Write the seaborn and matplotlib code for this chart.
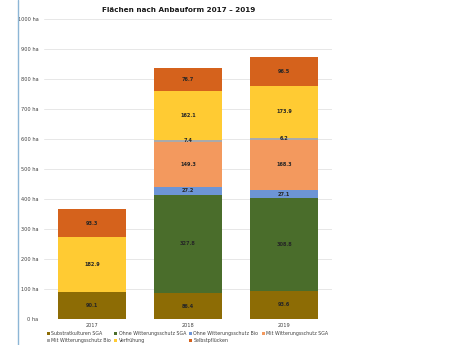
import matplotlib
matplotlib.use("Agg")
import matplotlib.pyplot as plt
from matplotlib.lines import Line2D
from matplotlib.patches import Patch
from matplotlib.ticker import FuncFormatter
import numpy as np
import pandas as pd
import seaborn as sns

years = ["2017", "2018", "2019"]
categories = [
    "Substratkulturen SGA",
    "Ohne Witterungsschutz SGA",
    "Ohne Witterungsschutz Bio",
    "Mit Witterungsschutz SGA",
    "Mit Witterungsschutz Bio",
    "Verfrühung",
    "Selbstpflücken",
]
substrat_sga = [90.1, 86.4, 93.6]
ohne_ws_sga = [0.0, 327.8, 308.8]
ohne_ws_bio = [0.0, 27.2, 27.1]
mit_ws_sga = [0.0, 149.3, 168.3]
mit_ws_bio = [0.0, 7.4, 6.2]
verfruehung = [182.9, 162.1, 173.9]
selbstpfluecken = [93.3, 76.7, 96.5]
y_ticks = list(range(0, 1001, 100))

colors = ["#8d6c05", "#4a6d2b", "#6d95d6", "#f3995e", "#aaaaaa", "#ffcb33", "#d5621c"]
series = [substrat_sga, ohne_ws_sga, ohne_ws_bio, mit_ws_sga, mit_ws_bio,
          verfruehung, selbstpfluecken]

sns.set_style("white")
plt.rcParams["font.family"] = ["DejaVu Sans"]

fig = plt.figure(figsize=(4.6, 3.45), dpi=100)
ax = fig.add_axes([44 / 460, 26 / 345, 288 / 460, 300 / 345])

vals = np.array(series)
tops = np.cumsum(vals, axis=0)
bottoms = tops - vals

# stacked bars: draw cumulative heights from the top layer down
for i in range(len(categories) - 1, -1, -1):
    df = pd.DataFrame({"Jahr": years, "Fläche": tops[i]})
    sns.barplot(data=df, x="Jahr", y="Fläche", color=colors[i], width=0.71,
                saturation=1, linewidth=0, ax=ax, zorder=3)

# segment value labels
for i in range(len(categories)):
    for j in range(len(years)):
        v = vals[i, j]
        if v > 0:
            ax.text(j, bottoms[i, j] + v / 2, f"{v:.1f}", ha="center", va="center",
                    fontsize=3.6, color="#262626", fontweight="bold", zorder=5)

ax.set_xlim(-0.5, 2.5)
ax.set_ylim(0, 1000)
ax.set_yticks(y_ticks)
ax.yaxis.set_major_formatter(FuncFormatter(lambda v, p: f"{int(v)} ha"))
ax.grid(axis="y", color="#e3e3e3", linewidth=0.6, zorder=0)
ax.set_axisbelow(True)
for s in ax.spines.values():
    s.set_visible(False)
ax.tick_params(axis="both", length=0, labelsize=3.6, colors="#404040")
ax.tick_params(axis="y", pad=4)
ax.tick_params(axis="x", pad=3)
ax.set_xlabel("")
ax.set_ylabel("")

fig.text(179 / 460, 1 - 10 / 345, "Flächen nach Anbauform 2017 – 2019",
         ha="center", va="center", fontsize=5.2, fontweight="bold", color="#1a1a1a")

# legend laid out row by row (4 + 3)
handles = [Patch(facecolor=c, edgecolor="none") for c in colors]
order = [0, 4, 1, 5, 2, 6, 3]
fig.legend([handles[k] for k in order], [categories[k] for k in order],
           ncol=4, loc="upper left", bbox_to_anchor=(47 / 460, 1 - 331 / 345),
           frameon=False, fontsize=3.4, handlelength=0.6, handleheight=0.6,
           handletextpad=0.3, columnspacing=0.7, labelspacing=0.5,
           borderaxespad=0, borderpad=0, labelcolor="#404040")

# page frame line on the left
fig.add_artist(Line2D([18 / 460, 18 / 460], [0, 1], color="#8db6d6", linewidth=1.0))

fig.savefig("out.png", dpi=100)
